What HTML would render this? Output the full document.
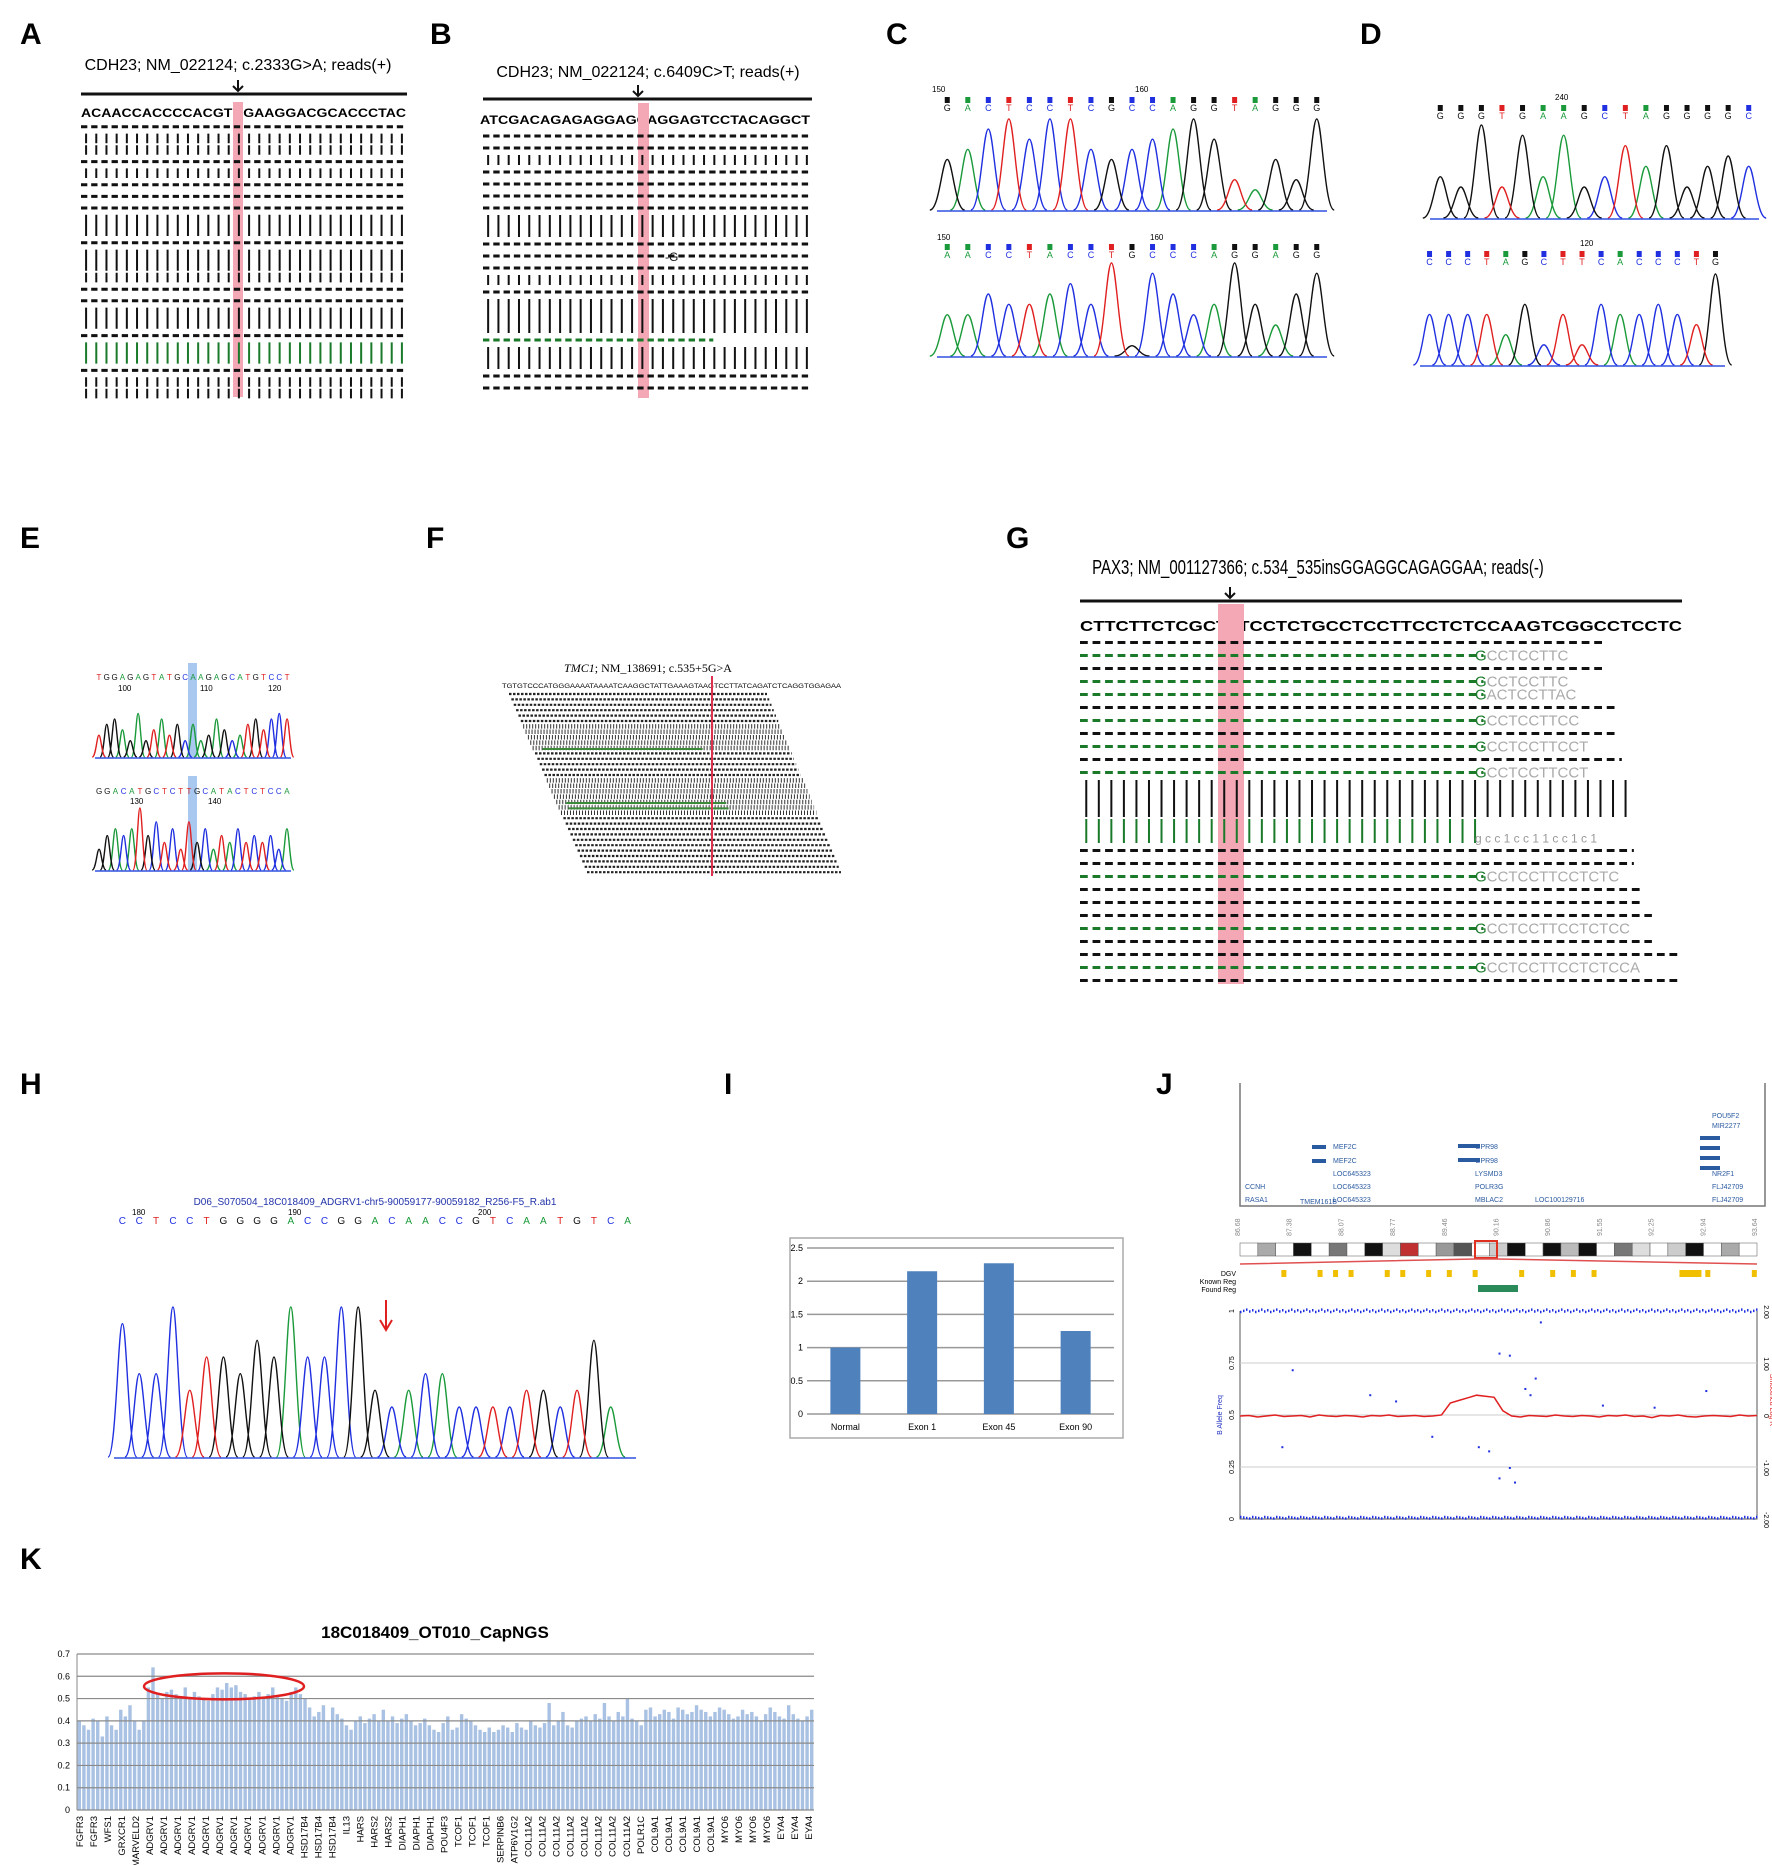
<!DOCTYPE html>
<html><head><meta charset="utf-8"><style>
html,body{margin:0;padding:0;background:#fff}
svg{display:block;font-family:"Liberation Sans",sans-serif}
.lbl{font-weight:bold;font-size:30px;fill:#000}
</style></head><body>
<svg id="fig" width="1772" height="1865" viewBox="0 0 1772 1865" xmlns="http://www.w3.org/2000/svg">
<rect width="1772" height="1865" fill="#fff"/>
<text class="lbl" x="20" y="44">A</text>
<text class="lbl" x="430" y="44">B</text>
<text class="lbl" x="886" y="44">C</text>
<text class="lbl" x="1360" y="44">D</text>
<text class="lbl" x="20" y="548">E</text>
<text class="lbl" x="426" y="548">F</text>
<text class="lbl" x="1006" y="548">G</text>
<text class="lbl" x="20" y="1094">H</text>
<text class="lbl" x="724" y="1094">I</text>
<text class="lbl" x="1156" y="1094">J</text>
<text class="lbl" x="20" y="1569">K</text>

<text x="238" y="70" font-size="16" text-anchor="middle">CDH23; NM_022124; c.2333G&gt;A; reads(+)</text>
<text x="648" y="77" font-size="16" text-anchor="middle">CDH23; NM_022124; c.6409C&gt;T; reads(+)</text>
<text x="648" y="672" font-size="12" font-family="Liberation Serif" text-anchor="middle"><tspan font-style="italic">TMC1</tspan>; NM_138691; c.535+5G&gt;A</text>
<text x="1318" y="574" font-size="20" text-anchor="middle" transform="translate(1318 574) scale(0.75 1) translate(-1318 -574)">PAX3; NM_001127366; c.534_535insGGAGGCAGAGGAA; reads(-)</text>
<text x="375" y="1205" font-size="10" fill="#2233aa" text-anchor="middle">D06_S070504_18C018409_ADGRV1-chr5-90059177-90059182_R256-F5_R.ab1</text>
<text x="435" y="1638" font-size="17" font-weight="bold" text-anchor="middle">18C018409_OT010_CapNGS</text>
<g id="g-root"></g>
</svg>
<script>
// ---- Chart data (panel I) ----
const iCategories = ["Normal","Exon 1","Exon 45","Exon 90"];
const iValues = [1.0, 2.15, 2.27, 1.25];
const iTicks = [0, 0.5, 1, 1.5, 2, 2.5];
// ---- Chart data (panel K) ----
const kValues = [.40,.38,.36,.41,.40,.33,.42,.38,.36,.45,.42,.47,.40,.36,.40,
.55,.64,.52,.50,.53,.54,.52,.51,.55,.50,.53,.51,.50,.49,.52,.55,.54,.57,.55,.56,.53,.52,.50,.51,.53,.50,.52,.55,.51,.50,.49,.53,.55,.52,.50,
.46,.42,.44,.47,.40,.46,.43,.41,.38,.36,.40,.42,.39,.41,.43,.40,.45,.40,.42,.39,.41,.43,.40,.38,.39,.41,
.38,.36,.35,.39,.42,.36,.37,.43,.41,.40,.38,.36,.35,.37,.35,.36,.38,.37,.35,.39,.37,.36,.40,.38,.37,
.39,.48,.38,.40,.44,.38,.37,.40,.41,.42,.40,.43,.41,.48,.42,.40,.44,.42,.50,.41,.40,.38,.45,.46,.42,
.43,.45,.44,.41,.46,.45,.43,.44,.47,.45,.44,.42,.44,.46,.45,.43,.41,.42,.45,.43,.44,.42,.40,.43,.46,.44,.42,.41,.47,.43,.41,.40,.42,.45];
const kTicks = [0,0.1,0.2,0.3,0.4,0.5,0.6,0.7];
const kGenes = ["FGFR3","FGFR3","WFS1","GRXCR1","MARVELD2","ADGRV1","ADGRV1","ADGRV1","ADGRV1","ADGRV1","ADGRV1","ADGRV1","ADGRV1","ADGRV1","ADGRV1","ADGRV1","HSD17B4","HSD17B4","HSD17B4","IL13","HARS","HARS2","HARS2","DIAPH1","DIAPH1","DIAPH1","POU4F3","TCOF1","TCOF1","TCOF1","SERPINB6","ATP6V1G2","COL11A2","COL11A2","COL11A2","COL11A2","COL11A2","COL11A2","COL11A2","COL11A2","POLR1C","COL9A1","COL9A1","COL9A1","COL9A1","COL9A1","MYO6","MYO6","MYO6","MYO6","EYA4","EYA4","EYA4"];
// ---- Chart data (panel J) ----
const jLogR = [0,.01,-.02,0,.02,-.01,0,.01,-.02,.02,0,-.01,.01,0,-.02,.01,0,.02,-.01,0,.01,-.01,0,.02,.25,.3,.35,.4,.38,.36,.1,0,-.02,.01,0,-.01,.02,0,-.01,.01,0,-.02,.01,0,.02,-.01,0,-.03,.01,0,.02,-.01,-.02,0,.01,0,-.01,.02,0,.01];
const jBafOut = [[.1,.72],[.25,.6],[.5,.8],[.52,.79],[.5,.2],[.52,.25],[.53,.18],[.48,.33],[.55,.63],[.57,.68],[.56,.6],[.3,.57],[.7,.55],[.8,.54],[.9,.62],[.08,.35],[.37,.4],[.58,.95],[.46,.35]];
const jDgv = [.08,.15,.18,.21,.28,.31,.36,.4,.45,.54,.6,.64,.68,.85,.9,.99];

const NS="http://www.w3.org/2000/svg";
const root=document.getElementById('g-root');
function mk(tag,attrs,parent){const e=document.createElementNS(NS,tag);for(const k in attrs)e.setAttribute(k,attrs[k]);(parent||root).appendChild(e);return e;}
function grp(name){const g=mk('g',{});

return g;}
const COL={A:'#1a9a3a',C:'#2030e0',G:'#111',T:'#e02020',N:'#888'};

function reads(name,x0,x1,cols,y0,step,rows,pink){
  const g=grp(name);
  const cw=(x1-x0)/cols;
  if(pink){const p=mk('rect',{x:pink[0],y:pink[1],width:pink[2],height:pink[3],fill:'#f4a7b4'},g);
    
    }
  let y=y0;
  rows.forEach(r=>{
    const t=r[0], end=r[1]==null?1:r[1], col=r[2]||'#111';
    const xe=x0+(x1-x0)*end;
    if(t==='D'){const l=mk('line',{x1:x0,x2:xe,y1:y+step/2,y2:y+step/2,stroke:col,'stroke-width':3,'stroke-dasharray':(cw*0.62)+' '+(cw*0.38)},g);
      
      }
    else{const h=(r[3]||1)*step;
      let d='';for(let c=0;c<cols;c++){const cx=x0+cw*(c+0.5);if(cx>xe)break;d+='M'+cx+' '+(y+1)+'V'+(y+h-1);}
      const p=mk('path',{d:d,stroke:col,'stroke-width':2,fill:'none'},g);
      
      
      y+=h-step;}
    if(r[4]){const tx=mk('text',{x:r[4][0],y:y+step/2+5,'font-size':r[4][2]||12,fill:'#aaa','font-family':'Liberation Sans'},g);
      const s=r[4][1];
      if(r[4][3]===GRC){const a=mk('tspan',{fill:GRC},tx);a.textContent=s[0];const b=mk('tspan',{},tx);b.textContent=s.slice(1);}
      else {tx.setAttribute('fill',r[4][3]||'#aaa');tx.textContent=s;}
      
      }
    y+=step;
  });
  return g;
}
function headerLine(name,x0,x1,y,ax){const g=grp(name);
  const l=mk('line',{x1:x0,x2:x1,y1:y,y2:y,stroke:'#111','stroke-width':3},g);
  
  
  const a=mk('path',{d:`M${ax} ${y-14}V${y-4}M${ax-5} ${y-8}L${ax} ${y-3}L${ax+5} ${y-8}`,stroke:'#111','stroke-width':2,fill:'none'},g);
  
  }
function seqText(name,x,y,s,size,len){const t=mk('text',{x:x,y:y,'font-size':size,'font-weight':'bold',textLength:len,lengthAdjust:'spacingAndGlyphs'});t.textContent=s;
  
  }
const GRC='#1a7a2a';

headerLine('panel-a-header',81,407,94,238);
seqText('panel-a-reference-seq',81,117,'ACAACCACCCCACGTGGAAGGACGCACCCTAC',12,325);
reads('panel-a-reads',81,407,32,121,11.6,[['D'],['P'],['P'],['D'],['P'],['D'],['D'],['D'],['P',1,null,2],['D'],['P',1,null,2],['P'],['D'],['D'],['P',1,null,2],['D'],['P',1,'#1a7a2a',2],['D'],['P'],['P']],[233,102,10,295]);
headerLine('panel-b-header',483,812,99,638);
seqText('panel-b-reference-seq',480,124,'ATCGACAGAGAGGAGCAGGAGTCCTACAGGCT',12,330);
reads('panel-b-reads',483,812,32,130,12,[['D'],['D'],['P'],['D'],['D'],['D'],['D'],['P',1,null,2],['D'],['D',1,null,null,[665,'-G',12,'#111']],['D'],['P'],['D'],['P',1,null,3],['D',0.7,'#1a7a2a'],['P',1,null,2],['D'],['D']],[638,103,11,295]);

(function(){const g=grp('panel-f-reads');
  const t=mk('text',{x:502,y:688,'font-size':6,textLength:339,lengthAdjust:'spacingAndGlyphs'},g);
  t.textContent='TGTGTCCCATGGGAAAATAAAATCAAGGCTATTGAAAGTAAGTCCTTATCAGATCTCAGGTGGAGAA';
  
  
  let d='',dv='',dg='';
  for(let i=0;i<34;i++){const y=694+i*5.4;const f=i/33;const xl=509+78*f, xr=767+74*f;
    if(i>=6&&i<=10||i>=16&&i<=22){dv+=`M${xl} ${y}H${xr}`;} else d+=`M${xl} ${y}H${xr}`;
    if(i===10||i===20||i===21)dg+=`M${xl+10} ${y+1}H${xl+170}`;}
  const a=mk('path',{d:d,stroke:'#222','stroke-width':2.2,'stroke-dasharray':'2.5 1.5',fill:'none'},g);
  
  
  const b=mk('path',{d:dv,stroke:'#333','stroke-width':4.5,'stroke-dasharray':'1 2',fill:'none'},g);
  
  
  const c=mk('path',{d:dg,stroke:'#3a8a3a','stroke-width':2,fill:'none'},g);
  
  
  const r=mk('line',{x1:712,x2:712,y1:676,y2:876,stroke:'#e03050','stroke-width':2},g);
  
  
})();

headerLine('panel-g-header',1080,1682,601,1230);
seqText('panel-g-reference-seq',1080,631,'CTTCTTCTCGCTTTCCTCTGCCTCCTTCCTCTCCAAGTCGGCCTCCTC',15,602);
const GR='#1a7a2a';
reads('panel-g-reads',1080,1682,48,636,13,[
 ['D',0.87],['D',0.67,GR,null,[1475,'GCCTCCTTC',15,GRC]],['D',0.87],['D',0.67,GR,null,[1475,'GCCTCCTTC',15,GRC]],['D',0.67,GR,null,[1475,'GACTCCTTAC',15,GRC]],
 ['D',0.89],['D',0.67,GR,null,[1475,'GCCTCCTTCC',15,GRC]],['D',0.89],['D',0.67,GR,null,[1475,'GCCTCCTTCCT',15,GRC]],['D',0.9],['D',0.67,GR,null,[1475,'GCCTCCTTCCT',15,GRC]],
 ['P',0.92,null,3],['P',0.67,GR,2,[1475,'g c c 1 c c 1 1 c c 1 c 1',12,'#999']],['D',0.92],['D',0.92],['D',0.67,GR,null,[1475,'GCCTCCTTCCTCTC',15,GRC]],
 ['D',0.93],['D',0.93],['D',0.95],['D',0.67,GR,null,[1475,'GCCTCCTTCCTCTCC',15,GRC]],['D',0.95],['D',1],['D',0.67,GR,null,[1475,'GCCTCCTTCCTCTCCA',15,GRC]],['D',1]
],[1218,604,26,380]);

function chrom(name,x0,x1,base,hmax,seq,hs,opts){
  const g=grp(name);opts=opts||{};
  const n=seq.length, sp=(x1-x0)/n;
  if(opts.hl){const r=mk('rect',{x:opts.hl[0],y:opts.hl[1],width:opts.hl[2],height:opts.hl[3],fill:'#a8c8f0'},g);
    
    }
  const paths={A:'',C:'',G:'',T:''};
  for(let i=0;i<n;i++){const b=seq[i]in paths?seq[i]:'G';const h=hmax*(+hs[i])/9;const cx=x0+sp*(i+0.5);const w=sp*0.85;
    paths[b]+=`M${cx-w} ${base}C${cx-w*0.45} ${base},${cx-w*0.3} ${base-h},${cx} ${base-h}C${cx+w*0.3} ${base-h},${cx+w*0.45} ${base},${cx+w} ${base}`;}
  for(const b in paths){const p=mk('path',{d:paths[b],stroke:COL[b],'stroke-width':1.4,fill:'none'},g);
    
    }
  const bl=mk('line',{x1:x0,x2:x1,y1:base+1,y2:base+1,stroke:'#3050e0','stroke-width':1.5},g);
  
  
  if(opts.ly){const L=opts.letters||seq;const ln=L.length,ls=(opts.lx1||x1)-(opts.lx0||x0);
    for(let i=0;i<ln;i++){const cx=(opts.lx0||x0)+ls/ln*(i+0.5);
      const t=mk('text',{x:cx,y:opts.ly,'font-size':opts.fs||9,'text-anchor':'middle',fill:COL[L[i]]||'#111'},g);t.textContent=L[i];
      
      
      if(opts.sq){const s=mk('rect',{x:cx-2.5,y:opts.sq,width:5,height:6,fill:COL[L[i]]||'#111'},g);
        
        }}}
  (opts.nums||[]).forEach(nm=>{const t=mk('text',{x:nm[0],y:nm[1],'font-size':8},g);t.textContent=nm[2];
    
    });
}
chrom('panel-c-top',937,1327,210,91,'GACTCCTCGCCAGGTAGGG','5689799656789732539',{ly:111,sq:97,nums:[[932,92,'150'],[1135,92,'160']]});
chrom('panel-c-bottom',937,1327,356,93,'AACCTACCTGCCCAGGAGG','4465567591864595368',{ly:258,sq:244,nums:[[937,240,'150'],[1150,240,'160']]});
chrom('panel-d-top',1430,1759,218,93,'GGGTGAAGCTAGGGGC','4393848347573565',{ly:119,sq:105,nums:[[1555,100,'240']]});
chrom('panel-d-bottom',1420,1725,365,91,'CCCTAGCTTCACCCTG','5555362526556549',{ly:265,sq:251,nums:[[1580,246,'120']]});
chrom('panel-e-top',95,291,757,49,'TGGAGAGTATGCAAGAGCATGTCCT','4675383574636347534675787',{hl:[188,663,9,94],ly:680,fs:8,nums:[[118,691,'100'],[200,691,'110'],[268,691,'120']]});
chrom('panel-e-bottom',95,291,870,62,'GGACATGCTCTTGCATACTCTCCA','356569574637463546454536',{hl:[188,776,9,94],ly:794,fs:8,nums:[[130,804,'130'],[208,804,'140']]});
chrom('panel-h-trace',114,636,1457,150,'CCCCTTGGGGACCCGGCACACCTCTGCTGAC','855946657696699434553333443473',{ly:1224,fs:10,letters:'CCTCCTGGGGACCGGACAACCGTCAATGTCA',nums:[[132,1215,'180'],[288,1215,'190'],[478,1215,'200']]});
(function(){const a=mk('path',{d:'M386 1300V1328M380 1320L386 1330L392 1320',stroke:'#e02020','stroke-width':2,fill:'none'});

})();

(function(){const g=grp('panel-i-chart');
  const bx=790,by=1238,bw=333,bh=200, px0=807,px1=1114,py0=1414,py1=1248;
  const fr=mk('rect',{x:bx,y:by,width:bw,height:bh,fill:'#fff',stroke:'#aaa','stroke-width':1.5},g);
  
  
  const ys=v=>py0-(py0-py1)*v/2.5;
  iTicks.forEach(t=>{const l=mk('line',{x1:px0,x2:px1,y1:ys(t),y2:ys(t),stroke:'#999','stroke-width':1.5},g);
    
    
    const tx=mk('text',{x:px0-4,y:ys(t)+3,'font-size':9,'text-anchor':'end'},g);tx.textContent=t;
    
    });
  const cw=(px1-px0)/iCategories.length;
  iCategories.forEach((c,i)=>{const cx=px0+cw*(i+0.5);
    const r=mk('rect',{x:cx-15,y:ys(iValues[i]),width:30,height:py0-ys(iValues[i]),fill:'#4f81bd'},g);
    
    
    const t=mk('text',{x:cx,y:py0+16,'font-size':9,'text-anchor':'middle'},g);t.textContent=c;
    
    });
})();

(function(){const g=grp('panel-j-genome-view');
  const x0=1240,x1=1757;
  const b=mk('path',{d:`M${x0} 1083V1206H1765V1083`,stroke:'#777',fill:'none','stroke-width':1.5},g);
  
  
  const genes=[[1333,1149,'MEF2C'],[1333,1163,'MEF2C'],[1333,1176,'LOC645323'],[1333,1189,'LOC645323'],[1333,1202,'LOC645323'],[1245,1189,'CCNH'],[1245,1202,'RASA1'],[1300,1204,'TMEM161B'],[1475,1149,'GPR98'],[1475,1163,'GPR98'],[1475,1176,'LYSMD3'],[1475,1189,'POLR3G'],[1475,1202,'MBLAC2'],[1535,1202,'LOC100129716'],[1712,1118,'POU5F2'],[1712,1128,'MIR2277'],[1712,1176,'NR2F1'],[1712,1189,'FLJ42709'],[1712,1202,'FLJ42709']];
  genes.forEach(q=>{const t=mk('text',{x:q[0],y:q[1],'font-size':7,fill:'#2a5aa0'},g);t.textContent=q[2];
    
    });
  const gb=mk('path',{d:'M1312 1147h14M1312 1161h14M1458 1146h22M1458 1160h22M1700 1138h20M1700 1148h20M1700 1158h20M1700 1168h20',stroke:'#2a5aa0','stroke-width':4},g);
  
  
  const bands=['#fff','#aaa','#fff','#111','#fff','#777','#fff','#111','#ddd','#c03030','#fff','#999','#555','#fff','#ccc','#111','#fff','#111','#bbb','#111','#fff','#777','#ddd','#fff','#ccc','#111','#fff','#aaa','#fff'];
  const bw=(x1-x0)/bands.length;
  bands.forEach((c,i)=>{const r=mk('rect',{x:x0+i*bw,y:1243,width:bw,height:13,fill:c,stroke:'#555','stroke-width':0.5},g);
    
    });
  const sel=mk('rect',{x:1475,y:1241,width:22,height:17,fill:'none',stroke:'#e03020','stroke-width':2},g);
  
  
  const rl=mk('path',{d:`M${x0} 1264L1475 1259H1497L${x1} 1264`,stroke:'#e05050',fill:'none','stroke-width':1.5},g);
  
  
  const ticks=['86.68','87.38','88.07','88.77','89.46','90.16','90.86','91.55','92.25','92.94','93.64'];
  ticks.forEach((t,i)=>{const x=x0+(x1-x0)*i/10;const tx=mk('text',{x:x,y:1236,'font-size':7,fill:'#888',transform:`rotate(-90 ${x} 1236)`},g);tx.textContent=t;
    
    });
  [['DGV',1276],['Known Reg',1284],['Found Reg',1292]].forEach(q=>{const t=mk('text',{x:1236,y:q[1],'font-size':7,'text-anchor':'end'},g);t.textContent=q[0];
    
    });
  jDgv.forEach(f=>{const r=mk('rect',{x:x0+(x1-x0)*f,y:1270,width:f>.84&&f<.86?22:5,height:7,fill:'#f0c000'},g);
    
    });
  const fr=mk('rect',{x:1478,y:1285,width:40,height:7,fill:'#2a8a5a'},g);
  
  
  const py0=1519,py1=1311;const yb=v=>py0-(py0-py1)*v;const yr=v=>1416-v*52;
  const ax=mk('path',{d:`M${x0} ${py1}V${py0}H${x1}V${py1}`,stroke:'#555',fill:'none'},g);
  
  
  [0.25,0.5,0.75].forEach(v=>{const l=mk('line',{x1:x0,x2:x1,y1:yb(v),y2:yb(v),stroke:'#ccc'},g);
    
    });
  [[1,'1'],[.75,'0.75'],[.5,'0.5'],[.25,'0.25'],[0,'0']].forEach(q=>{const y=yb(q[0]);const t=mk('text',{x:1234,y:y,'font-size':7,'text-anchor':'middle',transform:`rotate(-90 1234 ${y})`},g);t.textContent=q[1];
    
    });
  [[2,'2.00'],[1,'1.00'],[0,'0'],[-1,'-1.00'],[-2,'-2.00']].forEach(q=>{const y=yr(q[0]);const t=mk('text',{x:1764,y:y,'font-size':7,'text-anchor':'middle',transform:`rotate(90 1764 ${y})`},g);t.textContent=q[1];
    
    });
  const yl=mk('text',{x:1222,y:1415,'font-size':7,fill:'#2030c0','text-anchor':'middle',transform:'rotate(-90 1222 1415)'},g);yl.textContent='B Allele Freq';
  
  
  const yr2=mk('text',{x:1770,y:1400,'font-size':7,fill:'#e02020','text-anchor':'middle',transform:'rotate(90 1770 1400)'},g);yr2.textContent='Smoothed Log R';
  
  
  let dTop='',dBot='';
  for(let i=0;i<=172;i++){const x=x0+3*i;dTop+=`M${x} ${yb(0.995)-((i*7)%5)*0.6}h1.5`;dBot+=`M${x} ${yb(0.005)+((i*5)%4)*0.5-1}h1.5`;}
  const tp=mk('path',{d:dTop,stroke:'#2030e0','stroke-width':2.5},g);
  
  
  const bt=mk('path',{d:dBot,stroke:'#2030e0','stroke-width':2.5},g);
  
  
  jBafOut.forEach(p=>{const c=mk('rect',{x:x0+(x1-x0)*p[0],y:yb(p[1]),width:2,height:2,fill:'#2030e0'},g);
    
    });
  let d='';jLogR.forEach((v,i)=>{d+=(i?'L':'M')+(x0+(x1-x0)*i/(jLogR.length-1))+' '+yr(v);});
  const lr=mk('path',{d:d,stroke:'#e02020','stroke-width':1.5,fill:'none'},g);
  
  
})();

(function(){const g=grp('panel-k-chart');
  const px0=77,px1=814,py0=1810,py1=1654;
  const ys=v=>py0-(py0-py1)*v/0.7;
  const bw=(px1-px0)/kValues.length;
  kValues.forEach((v,i)=>{const r=mk('rect',{x:px0+i*bw+0.6,y:ys(v),width:bw-1.2,height:py0-ys(v),fill:'#a9c1e2'},g);
    
    });
  kTicks.forEach(t=>{const l=mk('line',{x1:px0,x2:px1,y1:ys(t),y2:ys(t),stroke:'#8a8a8a','stroke-width':1.2},g);
    
    
    const tx=mk('text',{x:px0-7,y:ys(t)+3,'font-size':9,'text-anchor':'end'},g);tx.textContent=t;
    
    });
  const ax=mk('line',{x1:px0,x2:px0,y1:py1,y2:py0,stroke:'#888'},g);
  
  
  const st=(809-80)/(kGenes.length-1);
  kGenes.forEach((n,i)=>{const x=80+st*i+3;const t=mk('text',{x:x,y:1816,'font-size':9.5,'text-anchor':'end',transform:`rotate(-90 ${x} 1816)`},g);t.textContent=n;
    
    });
  const e=mk('ellipse',{cx:(146+302)/2,cy:ys(0.555),rx:80,ry:13,fill:'none',stroke:'#e02020','stroke-width':2.5},g);
  
  
})();
</script>
</body></html>
